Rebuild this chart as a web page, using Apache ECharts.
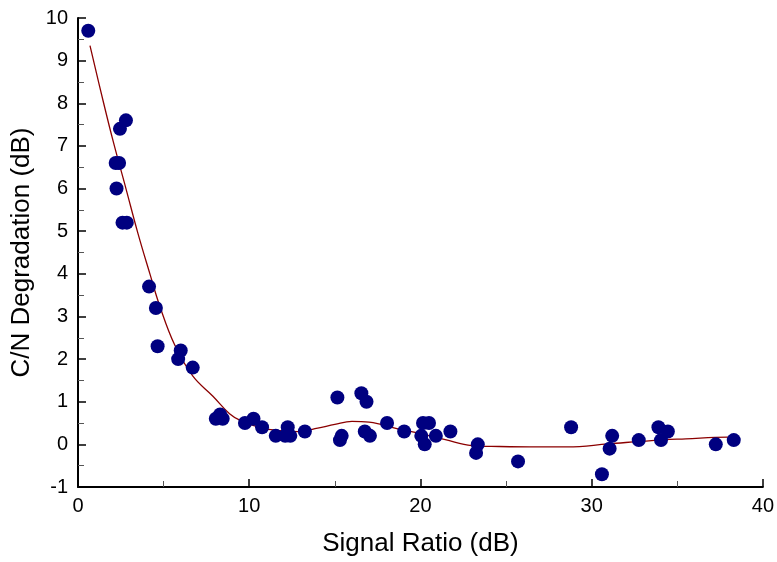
<!DOCTYPE html>
<html>
<head>
<meta charset="utf-8">
<script src="https://cdn.jsdelivr.net/npm/echarts@6/dist/echarts.min.js"></script>
<style>html,body{margin:0;padding:0;background:#fff}#c{width:777px;height:562px}</style>
</head>
<body>
<div id="c"></div>
<script>
// Measured points: signal ratio (dB)
const ratioX = [0.6, 2.8, 2.45, 2.2, 2.4, 2.25, 2.6, 2.85,
  4.15, 4.55, 4.65, 6.0, 5.85, 6.7,
  8.05, 8.3, 8.45, 9.75, 10.25, 10.75, 11.55, 12.25, 12.1, 12.4, 13.25,
  15.15, 16.55, 16.85, 15.4, 15.3, 16.75, 17.05, 18.05, 19.05,
  20.15, 20.5, 20.05, 20.25, 20.9, 21.75, 23.35, 23.25, 25.7,
  28.8, 30.6, 31.2, 31.05, 32.75, 33.9, 34.45, 34.05, 37.25, 38.3];
// Measured points: C/N degradation (dB)
const degradY = [9.7, 7.6, 7.4, 6.6, 6.6, 6.0, 5.2, 5.2,
  3.7, 3.2, 2.3, 2.2, 2.0, 1.8,
  0.6, 0.7, 0.6, 0.5, 0.6, 0.4, 0.2, 0.4, 0.2, 0.2, 0.3,
  1.1, 1.2, 1.0, 0.2, 0.1, 0.3, 0.2, 0.5, 0.3,
  0.5, 0.5, 0.2, 0.0, 0.2, 0.3, 0.0, -0.2, -0.4,
  0.4, -0.7, 0.2, -0.1, 0.1, 0.4, 0.3, 0.1, 0.0, 0.1];
// Fitted curve
const fitX = [0.7, 1.5, 2.06, 2.8, 3.5, 4.2, 4.77, 5.65, 6.71, 7.88, 8.85, 9.53, 10.6, 11.76, 12.9, 14, 15, 16, 17, 18.74, 20, 21.45, 23, 24.6, 26.9, 28.6, 30.96, 33.5, 35.5, 37.95, 38.3];
const fitY = [9.35, 8.0, 7.1, 6.0, 4.95, 4.0, 3.25, 2.33, 1.6, 1.13, 0.72, 0.55, 0.4, 0.32, 0.3, 0.38, 0.47, 0.54, 0.52, 0.36, 0.25, 0.11, -0.03, -0.05, -0.06, -0.06, 0.01, 0.09, 0.13, 0.17, 0.17];

const scatterData = ratioX.map((x, i) => [x, degradY[i]]);
const fitData = fitX.map((x, i) => [x, fitY[i]]);

const font = 'Liberation Sans, Arial, sans-serif';
const chart = echarts.init(document.getElementById('c'), null, {renderer: 'canvas'});
chart.setOption({
  animation: false,
  backgroundColor: '#fff',
  grid: {left: 78, right: 12, top: 18, bottom: 74, containLabel: false},
  xAxis: {
    type: 'value', min: 0, max: 40, interval: 10,
    name: 'Signal Ratio (dB)', nameLocation: 'middle', nameGap: 44,
    nameTextStyle: {fontFamily: font, fontSize: 26, color: '#000'},
    axisLine: {show: true, onZero: false, lineStyle: {color: '#000', width: 2}},
    axisTick: {show: true, inside: true, length: 8, lineStyle: {color: '#000', width: 1.5}},
    minorTick: {show: true, splitNumber: 2, length: 6, lineStyle: {color: '#555', width: 1}},
    axisLabel: {fontFamily: font, fontSize: 20, color: '#000', margin: 9},
    splitLine: {show: false}
  },
  yAxis: {
    type: 'value', min: -1, max: 10, interval: 1,
    name: 'C/N Degradation (dB)', nameLocation: 'middle', nameGap: 41,
    nameTextStyle: {fontFamily: font, fontSize: 26, color: '#000'},
    axisLine: {show: true, onZero: false, lineStyle: {color: '#000', width: 2}},
    axisTick: {show: true, inside: true, length: 8, lineStyle: {color: '#000', width: 1.5}},
    minorTick: {show: true, splitNumber: 2, length: 6, lineStyle: {color: '#555', width: 1}},
    axisLabel: {fontFamily: font, fontSize: 20, color: '#000', margin: 10},
    splitLine: {show: false}
  },
  series: [
    {
      type: 'line', data: fitData, smooth: 0.4, symbol: 'none',
      lineStyle: {color: '#8b0000', width: 1.3}, z: 2
    },
    {
      type: 'scatter', data: scatterData, symbol: 'circle', symbolSize: 14,
      itemStyle: {color: '#000080', opacity: 1}, z: 3
    }
  ]
});
</script>
</body>
</html>
